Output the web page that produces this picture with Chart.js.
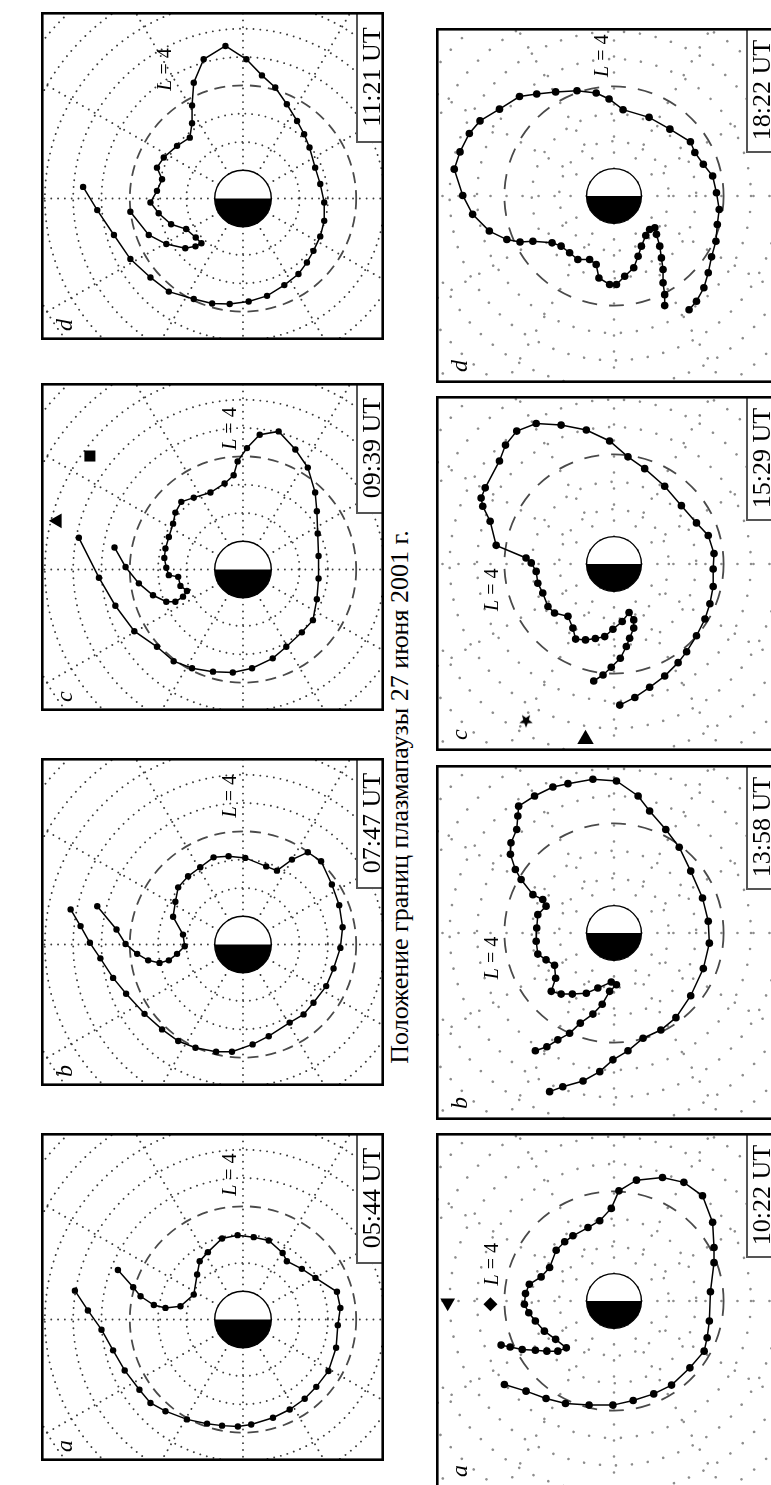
<!DOCTYPE html>
<html>
<head>
<meta charset="utf-8">
<script src="https://cdn.jsdelivr.net/npm/chart.js@4.4.1/dist/chart.umd.min.js"></script>
<style>
html, body { margin: 0; padding: 0; background: #fff; }
body { width: 771px; height: 1485px; position: relative; overflow: hidden; }
canvas { position: absolute; }
#title {
  position: absolute; left: 400px; top: 797px;
  font-family: "Liberation Serif", "Times New Roman", serif; font-size: 26px; line-height: 1;
  white-space: nowrap; transform: translate(-50%, -50%) rotate(-90deg);
}
</style>
</head>
<body>
<div id="title">Положение границ плазмапаузы 27 июня 2001 г.</div>
<script>
// plasmapause points, L units from Earth centre (x right, y up as printed)
const june10a = [[-5.94,1.02],[-5.48,0.32],[-5.00,-0.36],[-4.59,-1.09],[-4.18,-1.80],[-3.66,-2.48],[-3.27,-2.95],[-2.74,-3.24],[-1.98,-3.53],[-1.27,-3.68],[-0.74,-3.75],[-0.18,-3.78],[0.29,-3.71],[1.06,-3.47],[1.65,-3.18],[2.18,-2.80],[2.59,-2.38],[3.02,-1.82],[3.29,-1.00],[3.35,-0.20],[3.44,0.41],[3.32,0.98],[2.56,1.47],[2.08,1.79],[1.55,2.06],[1.40,2.35],[0.91,2.79],[0.38,2.91],[-0.19,2.98],[-0.74,2.86],[-1.24,2.38],[-1.53,2.06],[-1.62,1.59],[-1.74,0.88],[-2.21,0.47],[-2.74,0.41],[-3.15,0.51],[-3.62,0.82],[-3.88,1.14],[-4.42,1.75]];
const june10b = [[-6.09,1.24],[-5.74,0.65],[-5.41,0.06],[-5.04,-0.49],[-4.59,-1.18],[-4.13,-1.74],[-3.48,-2.45],[-2.86,-3.00],[-2.29,-3.41],[-1.68,-3.65],[-0.95,-3.79],[-0.39,-3.79],[0.34,-3.53],[0.91,-3.24],[1.65,-2.76],[2.14,-2.47],[2.49,-2.06],[2.94,-1.47],[3.20,-0.85],[3.44,-0.12],[3.52,0.61],[3.40,1.39],[3.14,2.12],[2.76,2.94],[2.29,3.26],[1.73,3.00],[1.20,2.61],[0.82,2.76],[0.08,3.06],[-0.51,3.12],[-1.04,3.08],[-1.51,2.73],[-1.94,2.41],[-2.29,2.02],[-2.39,1.51],[-2.47,0.98],[-2.12,0.35],[-2.06,-0.06],[-2.33,-0.33],[-2.62,-0.56],[-2.95,-0.65],[-3.35,-0.56],[-3.74,-0.33],[-4.15,0.02],[-4.47,0.53],[-5.15,1.35]];
const june10c = [[-5.80,1.12],[-5.09,-0.29],[-4.51,-1.28],[-3.84,-2.18],[-3.04,-2.73],[-2.45,-3.24],[-1.80,-3.49],[-1.06,-3.61],[-0.36,-3.64],[0.32,-3.49],[1.05,-3.14],[1.53,-2.73],[2.08,-2.22],[2.47,-1.79],[2.61,-1.05],[2.67,-0.32],[2.67,0.48],[2.64,1.27],[2.61,2.06],[2.55,2.72],[2.29,3.60],[1.85,4.24],[1.26,4.88],[0.59,4.76],[0.14,4.29],[-0.19,3.82],[-0.33,3.33],[-0.65,3.04],[-1.15,2.72],[-1.74,2.54],[-2.18,2.39],[-2.39,2.01],[-2.47,1.62],[-2.62,1.15],[-2.74,0.74],[-2.78,0.41],[-2.71,0.06],[-2.62,-0.20],[-2.29,-0.26],[-2.21,-0.58],[-1.98,-0.76],[-2.12,-0.96],[-2.39,-1.14],[-2.71,-1.14],[-3.18,-0.91],[-3.68,-0.49],[-4.15,0.09],[-4.54,0.78]];
const june10d = [[-5.65,0.41],[-5.15,-0.41],[-4.56,-1.29],[-3.98,-2.14],[-3.27,-2.79],[-2.62,-3.29],[-1.74,-3.55],[-1.09,-3.71],[-0.47,-3.73],[0.20,-3.64],[0.85,-3.44],[1.46,-3.06],[1.96,-2.67],[2.26,-2.26],[2.49,-1.85],[2.73,-1.34],[2.87,-0.79],[2.87,-0.14],[2.73,0.51],[2.55,1.09],[2.35,1.80],[2.16,2.27],[1.91,2.74],[1.55,3.33],[1.14,3.92],[0.67,4.35],[0.12,4.92],[-0.62,5.39],[-1.39,4.92],[-1.74,4.09],[-1.80,3.29],[-1.80,2.66],[-1.88,2.15],[-2.33,1.86],[-2.80,1.45],[-3.04,1.09],[-2.86,0.68],[-3.04,0.27],[-3.27,-0.14],[-2.98,-0.52],[-2.54,-0.91],[-2.01,-1.08],[-1.67,-1.38],[-1.47,-1.58],[-1.68,-1.69],[-2.04,-1.76],[-2.71,-1.61],[-3.33,-1.29],[-3.98,-0.47]];

const june27a = [[-4.00,-3.05],[-3.21,-3.29],[-2.48,-3.56],[-1.77,-3.74],[-0.91,-3.80],[-0.04,-3.80],[0.70,-3.63],[1.45,-3.39],[2.10,-3.07],[2.77,-2.44],[3.29,-1.83],[3.40,-1.34],[3.48,-0.73],[3.52,0.34],[3.65,1.40],[3.65,1.95],[3.60,2.87],[3.23,3.84],[2.55,4.33],[1.77,4.51],[0.82,4.41],[0.18,4.02],[-0.10,3.38],[-0.52,2.93],[-0.95,2.68],[-1.50,2.38],[-1.80,2.16],[-2.11,1.85],[-2.35,1.22],[-2.66,0.88],[-3.09,0.61],[-3.23,0.27],[-3.27,-0.12],[-3.11,-0.43],[-2.87,-0.73],[-2.54,-1.10],[-2.13,-1.40],[-1.74,-1.71],[-2.05,-1.83],[-2.45,-1.83],[-2.87,-1.80],[-3.35,-1.77],[-3.79,-1.68],[-4.12,-1.61]];
const june27b = [[-2.35,-5.79],[-1.87,-5.61],[-1.13,-5.40],[-0.52,-5.06],[-0.04,-4.63],[0.51,-4.30],[1.06,-3.84],[1.71,-3.54],[2.26,-3.09],[2.80,-2.29],[3.26,-1.30],[3.48,-0.37],[3.44,0.43],[3.23,1.28],[2.80,2.26],[2.38,3.13],[1.89,3.78],[1.30,4.45],[0.88,5.00],[0.09,5.55],[-0.77,5.61],[-1.68,5.45],[-2.23,5.33],[-2.90,5.00],[-3.48,4.63],[-3.51,4.27],[-3.55,3.78],[-3.76,3.29],[-3.78,2.87],[-3.60,2.32],[-3.39,1.95],[-2.96,1.40],[-2.60,1.22],[-2.48,0.98],[-2.78,0.67],[-2.82,0.18],[-2.84,-0.30],[-2.78,-0.77],[-2.48,-0.98],[-2.17,-1.18],[-2.13,-1.65],[-2.29,-2.13],[-1.93,-2.23],[-1.52,-2.23],[-1.01,-2.20],[-0.59,-2.01],[-0.10,-1.79],[0.09,-1.89],[-0.16,-2.13],[-0.43,-2.60],[-0.77,-2.96],[-1.23,-3.29],[-1.62,-3.66],[-2.05,-3.90],[-2.45,-4.15],[-2.87,-4.30]];
const june27c = [[0.21,-5.15],[0.76,-4.87],[1.30,-4.50],[1.85,-4.09],[2.34,-3.60],[2.65,-3.20],[3.01,-2.62],[3.32,-2.01],[3.50,-1.45],[3.62,-0.82],[3.62,-0.18],[3.65,0.38],[3.44,1.04],[3.01,1.50],[2.46,2.13],[1.85,2.84],[1.12,3.48],[0.51,3.91],[-0.16,4.49],[-1.01,4.89],[-1.93,5.07],[-2.84,5.13],[-3.55,4.85],[-3.96,4.34],[-4.18,3.76],[-4.70,2.78],[-4.85,2.41],[-4.79,2.11],[-4.52,1.56],[-4.30,0.68],[-3.21,0.22],[-3.02,0.04],[-2.84,-0.27],[-2.78,-0.70],[-2.60,-1.06],[-2.41,-1.55],[-2.17,-1.79],[-1.68,-1.91],[-1.50,-2.34],[-1.40,-2.74],[-1.04,-2.77],[-0.68,-2.72],[-0.34,-2.65],[-0.04,-2.38],[0.30,-2.10],[0.55,-1.77],[0.72,-2.04],[0.72,-2.34],[0.57,-2.71],[0.45,-3.01],[0.23,-3.44],[-0.10,-3.77],[-0.40,-4.05],[-0.74,-4.27]];
const june27d = [[2.74,-4.15],[3.01,-3.84],[3.28,-3.35],[3.44,-2.80],[3.56,-2.22],[3.72,-1.65],[3.77,-1.04],[3.84,-0.49],[3.74,0.12],[3.60,0.73],[3.26,1.16],[2.95,1.59],[2.79,1.98],[2.04,2.44],[1.28,2.87],[0.33,3.15],[-0.18,3.54],[-0.65,3.76],[-1.35,3.84],[-2.13,3.80],[-2.82,3.72],[-3.45,3.63],[-4.18,3.17],[-4.89,2.74],[-5.28,2.28],[-5.62,1.61],[-5.83,0.98],[-5.52,0.02],[-5.16,-0.67],[-4.55,-1.28],[-3.91,-1.59],[-3.43,-1.68],[-2.96,-1.65],[-2.26,-1.71],[-1.93,-1.83],[-1.62,-2.07],[-1.32,-2.32],[-0.89,-2.32],[-0.65,-2.50],[-0.55,-2.99],[-0.16,-3.23],[0.09,-3.23],[0.39,-2.93],[0.72,-2.62],[0.88,-2.20],[1.00,-1.83],[1.16,-1.44],[1.30,-1.22],[1.49,-1.16],[1.55,-1.40],[1.67,-1.83],[1.73,-2.26],[1.79,-2.68],[1.79,-3.17],[1.85,-3.60],[1.85,-4.00]];

// single markers
const june10cTriangle = [[-6.56, 1.72]];
const june10cSquare = [[-5.41, 4.01]];
const june27aTriangle = [[-6.07, -0.06]];
const june27aDiamond = [[-4.51, -0.12]];
const june27cStar = [[-3.21, -5.72]];
const june27cTriangle = [[-1.04, -6.40]];

const times10 = ['05:44 UT', '07:47 UT', '09:39 UT', '11:21 UT'];
const times27 = ['10:22 UT', '13:58 UT', '15:29 UT', '18:22 UT'];
const letters = ['a', 'b', 'c', 'd'];
const gridL = [2, 3, 5, 6, 7, 8, 9, 10];
const gridHours = [0, 2, 4, 6, 8, 10, 12, 14, 16, 18, 20, 22];
const refL = 4;

const SERIF = '"Liberation Serif", "Times New Roman", serif';

const LEFT = { x: 41, w: 343, h: 328, ox: 202, oy: 186.5, unit: 28.3, boxX: 315, boxH: 130,
  sparse: false, dot: 3.2, dash: [11, 7], letterDx: 31, letterDy: 9 };
const RIGHT = { x: 436, w: 343, h: 355, ox: 178, oy: 168, unit: 27.4, boxX: 310, boxH: 124,
  sparse: true, dot: 3.8, dash: [15, 12], letterDx: 31, letterDy: 11 };

function starImage(r) {
  const c = document.createElement('canvas');
  c.width = c.height = 2 * r + 2;
  const g = c.getContext('2d');
  g.beginPath();
  for (let i = 0; i < 10; i++) {
    const rr = i % 2 ? r * 0.42 : r;
    const a = Math.PI / 2 + i * Math.PI / 5;
    g.lineTo(r + 1 + rr * Math.cos(a), r + 1 + rr * Math.sin(a));
  }
  g.closePath();
  g.fill();
  return c;
}

const panels = [
  { col: LEFT, top: 1133, curve: june10a, time: times10[0], letter: letters[0], label: [-0.45, 5.12], marks: [] },
  { col: LEFT, top: 758, curve: june10b, time: times10[1], letter: letters[1], label: [-0.45, 5.24], marks: [] },
  { col: LEFT, top: 383, curve: june10c, time: times10[2], letter: letters[2], label: [-0.45, 4.98],
    marks: [{ data: june10cTriangle, style: 'triangle', rot: -90, r: 8.5 }, { data: june10cSquare, style: 'rect', rot: 0, r: 7.8 }] },
  { col: LEFT, top: 12, curve: june10d, time: times10[3], letter: letters[3], label: [-2.74, 4.56], marks: [] },
  { col: RIGHT, top: 1133, curve: june27a, time: times27[0], letter: letters[0], label: [-4.43, 1.34],
    marks: [{ data: june27aTriangle, style: 'triangle', rot: 180, r: 8.5 }, { data: june27aDiamond, style: 'rectRot', rot: 0, r: 7 }] },
  { col: RIGHT, top: 765, curve: june27b, time: times27[1], letter: letters[1], label: [-4.43, -0.91], marks: [] },
  { col: RIGHT, top: 396, curve: june27c, time: times27[2], letter: letters[2], label: [-4.43, -0.94],
    marks: [{ data: june27cStar, style: starImage(7), rot: 0, r: 7 }, { data: june27cTriangle, style: 'triangle', rot: 0, r: 9.5 }] },
  { col: RIGHT, top: 28, curve: june27d, time: times27[3], letter: letters[3], label: [-0.40, 5.12], marks: [] },
];

const toXY = arr => arr.map(([x, y]) => ({ x, y }));

function panelPlugin(p) {
  const c = p.col;
  return {
    id: 'polar' + p.top + c.x,
    beforeDatasetsDraw(chart) {
      const { ctx, chartArea: a, scales: { x, y } } = chart;
      const ox = x.getPixelForValue(0), oy = y.getPixelForValue(0);
      const u = x.getPixelForValue(1) - ox;
      ctx.save();
      ctx.beginPath();
      ctx.rect(a.left, a.top, a.width, a.height);
      ctx.clip();
      ctx.lineCap = 'round';
      if (c.sparse) {
        ctx.strokeStyle = '#8c8c8c'; ctx.lineWidth = 2.6; ctx.setLineDash([0.01, 16]);
      } else {
        ctx.strokeStyle = '#3a3a3a'; ctx.lineWidth = 1.9; ctx.setLineDash([0.01, 6.8]);
      }
      gridL.forEach(L => {
        ctx.beginPath();
        ctx.arc(ox, oy, L * u, 0, Math.PI * 2);
        ctx.stroke();
      });
      gridHours.forEach(h => {
        const t = h * Math.PI / 12;
        ctx.beginPath();
        ctx.moveTo(ox + Math.cos(t) * u, oy + Math.sin(t) * u);
        ctx.lineTo(ox + Math.cos(t) * 11 * u, oy + Math.sin(t) * 11 * u);
        ctx.stroke();
      });
      ctx.lineCap = 'butt';
      ctx.setLineDash(c.dash);
      ctx.strokeStyle = '#4a4a4a';
      ctx.lineWidth = 1.8;
      ctx.beginPath();
      ctx.arc(ox, oy, refL * u, 0, Math.PI * 2);
      ctx.stroke();
      ctx.restore();
    },
    afterDatasetsDraw(chart) {
      const { ctx, chartArea: a, scales: { x, y } } = chart;
      const ox = x.getPixelForValue(0), oy = y.getPixelForValue(0);
      const u = x.getPixelForValue(1) - ox;
      ctx.save();
      // Earth: day side white, night side black
      ctx.fillStyle = '#fff';
      ctx.beginPath(); ctx.arc(ox, oy, u, Math.PI, Math.PI * 2); ctx.closePath(); ctx.fill();
      ctx.fillStyle = '#000';
      ctx.beginPath(); ctx.arc(ox, oy, u, 0, Math.PI); ctx.closePath(); ctx.fill();
      ctx.strokeStyle = '#000'; ctx.lineWidth = 1.4;
      ctx.beginPath(); ctx.arc(ox, oy, u, 0, Math.PI * 2); ctx.stroke();

      // L = 4 label
      const lx = x.getPixelForValue(p.label[0]), ly = y.getPixelForValue(p.label[1]);
      ctx.save();
      ctx.translate(lx, ly);
      ctx.rotate(-Math.PI / 2);
      ctx.fillStyle = '#000';
      ctx.textBaseline = 'middle';
      ctx.textAlign = 'left';
      ctx.font = 'italic 20px ' + SERIF;
      const wL = ctx.measureText('L').width;
      ctx.font = '20px ' + SERIF;
      const wR = ctx.measureText(' = 4').width;
      const s = -(wL + wR) / 2;
      ctx.font = 'italic 20px ' + SERIF;
      ctx.fillText('L', s, 0);
      ctx.font = '20px ' + SERIF;
      ctx.fillText(' = 4', s + wL, 0);
      ctx.restore();

      // panel letter
      ctx.save();
      ctx.translate(a.left + c.letterDx, a.bottom - c.letterDy);
      ctx.rotate(-Math.PI / 2);
      ctx.font = 'italic 24px ' + SERIF;
      ctx.textAlign = 'left';
      ctx.textBaseline = 'alphabetic';
      ctx.fillStyle = '#000';
      ctx.fillText(p.letter, 0, 0);
      ctx.restore();

      // time box
      const bx = a.left + c.boxX, bw = 28;
      ctx.fillStyle = '#fff';
      ctx.fillRect(bx, a.top, bw + 20, c.boxH);
      ctx.strokeStyle = '#555'; ctx.lineWidth = 2;
      ctx.strokeRect(bx + 1, a.top, bw + 20, c.boxH);
      ctx.save();
      ctx.translate(bx + 24, a.top + c.boxH / 2);
      ctx.rotate(-Math.PI / 2);
      ctx.font = '26px ' + SERIF;
      ctx.textAlign = 'center';
      ctx.textBaseline = 'alphabetic';
      ctx.fillStyle = '#000';
      ctx.fillText(p.time, 0, 0);
      ctx.restore();

      // frame
      ctx.strokeStyle = '#000'; ctx.lineWidth = 2.6;
      ctx.strokeRect(a.left + 1.3, a.top + 1.3, a.width - 2.6, a.height - 2.6);
      ctx.restore();
    }
  };
}

panels.forEach(p => {
  const c = p.col;
  const cv = document.createElement('canvas');
  cv.width = c.w; cv.height = c.h;
  cv.style.left = c.x + 'px';
  cv.style.top = p.top + 'px';
  cv.style.width = c.w + 'px';
  cv.style.height = c.h + 'px';
  document.body.appendChild(cv);

  const datasets = [{
    data: toXY(p.curve),
    showLine: true,
    borderColor: '#000',
    borderWidth: 1.5,
    pointRadius: c.dot,
    pointBackgroundColor: '#000',
    pointBorderWidth: 0,
    tension: 0
  }];
  p.marks.forEach(m => datasets.push({
    data: toXY(m.data),
    showLine: false,
    pointStyle: m.style,
    rotation: m.rot,
    pointRadius: m.r,
    pointBackgroundColor: '#000',
    pointBorderColor: '#000',
    pointBorderWidth: 0
  }));

  new Chart(cv, {
    type: 'scatter',
    data: { datasets },
    options: {
      responsive: false,
      animation: false,
      events: [],
      layout: { padding: 0, autoPadding: false },
      plugins: { legend: { display: false }, tooltip: { enabled: false } },
      scales: {
        x: { type: 'linear', display: false, min: -c.ox / c.unit, max: (c.w - c.ox) / c.unit },
        y: { type: 'linear', display: false, min: -(c.h - c.oy) / c.unit, max: c.oy / c.unit }
      }
    },
    plugins: [panelPlugin(p)]
  });
});
</script>
</body>
</html>
